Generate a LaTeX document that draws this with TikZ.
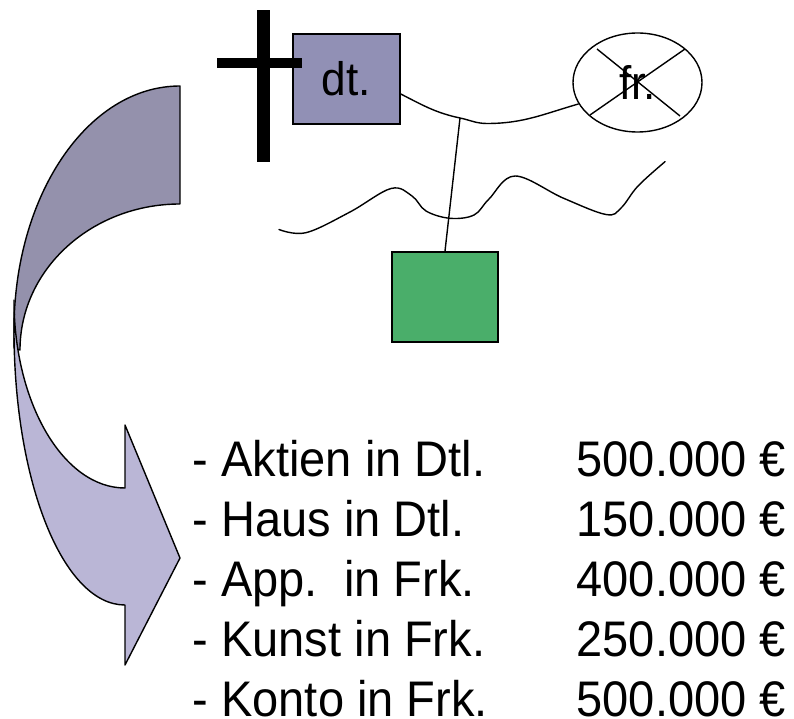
\documentclass[tikz,border=0pt]{standalone}
\usepackage{fontspec}
\setmainfont{Liberation Sans}[FakeStretch=0.94]
\usetikzlibrary{shapes.geometric}
\definecolor{darkband}{RGB}{148,145,172}
\definecolor{lightband}{RGB}{186,182,214}
\definecolor{dtfill}{RGB}{145,144,181}
\definecolor{greenfill}{RGB}{74,174,106}
\frenchspacing
\begin{document}
\begin{tikzpicture}[x=1pt,y=-1pt,line width=1.4pt,
  bandline/.style={draw=black,line width=1.4pt,line join=round},
  dtbox/.style={draw=black,fill=dtfill,line width=1.5pt,minimum width=107pt,minimum height=90pt,inner sep=0pt,font=\fontsize{47}{47}\selectfont},
  frell/.style={draw=black,ellipse,line width=1.4pt,minimum width=129pt,minimum height=99pt,inner sep=0pt,font=\fontsize{47}{47}\selectfont},
  greenbox/.style={draw=black,fill=greenfill,line width=1.8pt,minimum width=106pt,minimum height=90pt,inner sep=0pt},
  item/.style={anchor=base west,inner sep=0pt,font=\fontsize{50}{50}\selectfont}]
\useasboundingbox (0,0) rectangle (794,719);
% curved arrow: back band
\path[bandline,fill=darkband] (180,86) .. controls (88,86) and (14,195) .. (14,330)
  -- (14,348) -- (20,350) .. controls (20,269) and (92,204) .. (180,204) -- cycle;
% front band with arrow head
\path[bandline,fill=lightband] (14,300) -- (14,330) .. controls (14,482) and (63,605) .. (125,605)
  -- (125,665) -- (180,558) -- (125,425) -- (125,488)
  .. controls (64,488) and (14,404) .. (14,300) -- cycle;
% boxes
\node[dtbox] (dt) at (346.5,79) {\raisebox{-3pt}{dt.}};
\fill (257,10) rectangle (270,162);
\fill (217,58) rectangle (302,68);
\node[frell] (fr) at (637.5,82.5) {\raisebox{-1pt}{fr.}};
\draw ([shift={(-40.5,-33.5)}]fr.center) -- ([shift={(42.5,33.5)}]fr.center);
\draw ([shift={(47.5,-33.5)}]fr.center) -- ([shift={(-47.5,32.5)}]fr.center);
\node[greenbox] (green) at (445,297) {};
% connectors
\coordinate (m) at (487,123.5);
\coordinate (tap) at (460,118);
\draw ([yshift=-15pt]dt.east) to[out=-27,in=168] (tap) to[out=-12,in=180] (m) to[out=0,in=196] (fr.200);
\draw (tap) -- (green.north);
% wavy line
\draw[line cap=round] plot[smooth,tension=0.6] coordinates {(279,229.5) (306,232.7) (350,212) (391,188.5) (412,196) (426,211) (450,218.3) (474,215) (489,199) (515,176) (563,198) (606,214.5) (621,208) (638,186) (665,161.7)};
% list
\node[item] (l1) at (192,476) {- Aktien in Dtl.};
\node[item] (l2) at (192,536) {- Haus in Dtl.};
\node[item] (l3) at (192,596) {- App.\ \ in Frk.};
\node[item] (l4) at (192,656) {- Kunst in Frk.};
\node[item] (l5) at (192,716) {- Konto in Frk.};
\node[item] (v1) at (576,476) {500.000 €};
\node[item] (v2) at (576,536) {150.000 €};
\node[item] (v3) at (576,596) {400.000 €};
\node[item] (v4) at (576,656) {250.000 €};
\node[item] (v5) at (576,716) {500.000 €};
\end{tikzpicture}
\end{document}
